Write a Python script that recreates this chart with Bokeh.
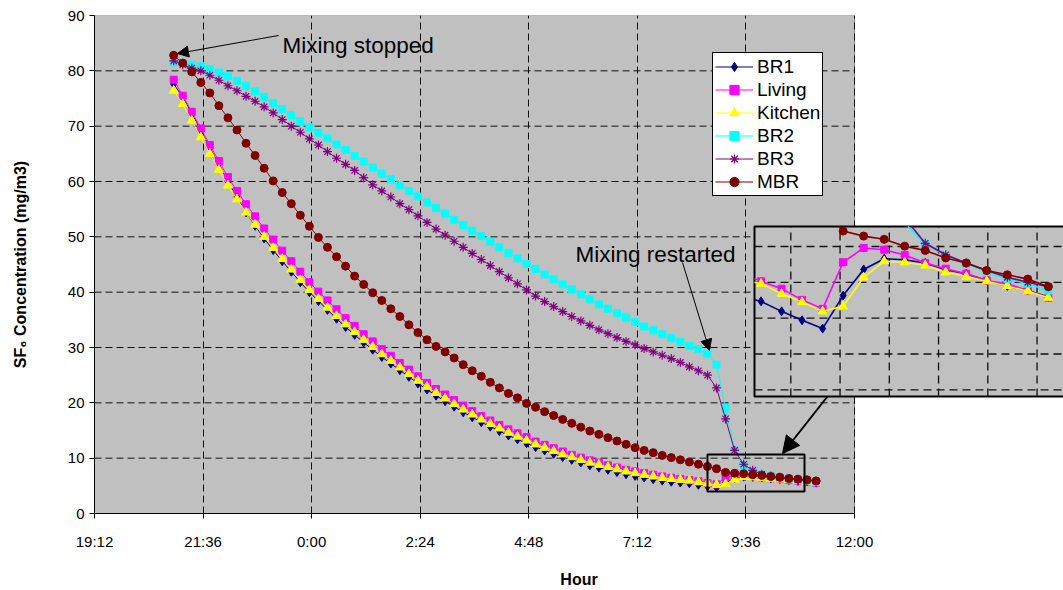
from bokeh.plotting import figure
from bokeh.models import (Range1d, FixedTicker, BoxAnnotation, Label, Arrow,
                          NormalHead, Legend, LegendItem)
from bokeh.embed import file_html
from bokeh.resources import INLINE

# ---------------- data ----------------
times = ["20:57", "21:09", "21:21", "21:33", "21:45", "21:57", "22:09", "22:21", "22:33", "22:45",
         "22:57", "23:09", "23:21", "23:33", "23:45", "23:57", "0:09", "0:21", "0:33", "0:45",
         "0:57", "1:09", "1:21", "1:33", "1:45", "1:57", "2:09", "2:21", "2:33", "2:45",
         "2:57", "3:09", "3:21", "3:33", "3:45", "3:57", "4:09", "4:21", "4:33", "4:45",
         "4:57", "5:09", "5:21", "5:33", "5:45", "5:57", "6:09", "6:21", "6:33", "6:45",
         "6:57", "7:09", "7:21", "7:33", "7:45", "7:57", "8:09", "8:21", "8:33", "8:45",
         "8:57", "9:09", "9:21", "9:33", "9:45", "9:57", "10:09", "10:21", "10:33", "10:45",
         "10:57", "11:09"]

br1 = [77.6, 75.3, 72.3, 69.2, 66.1, 63.2, 60.0, 57.2, 54.4, 52.0,
       49.7, 47.6, 45.6, 43.7, 41.8, 40.0, 38.4, 36.8, 35.2, 33.7,
       32.3, 30.9, 29.6, 28.3, 27.1, 25.9, 24.7, 23.5, 22.4, 21.3,
       20.3, 19.3, 18.3, 17.4, 16.5, 15.7, 14.9, 14.1, 13.4, 12.7,
       12.0, 11.4, 10.8, 10.2, 9.7, 9.2, 8.7, 8.3, 7.9, 7.5,
       7.1, 6.8, 6.5, 6.2, 5.95, 5.75, 5.6, 5.47, 5.19, 4.94,
       4.71, 5.63, 6.36, 6.66, 6.63, 6.54, 6.35, 6.24, 6.05, 5.90,
       5.77, 5.59]
living = [78.4, 75.5, 72.6, 69.6, 66.6, 63.7, 60.8, 58.3, 55.9, 53.7,
          51.5, 49.5, 47.5, 45.6, 43.7, 41.8, 40.1, 38.5, 36.9, 35.3,
          33.9, 32.4, 31.1, 29.7, 28.5, 27.2, 26.0, 24.8, 23.6, 22.5,
          21.5, 20.5, 19.5, 18.5, 17.6, 16.8, 16.0, 15.2, 14.5, 13.8,
          13.0, 12.4, 11.8, 11.2, 10.6, 10.1, 9.6, 9.2, 8.7, 8.3,
          7.9, 7.6, 7.3, 7.0, 6.7, 6.45, 6.25, 6.03, 5.82, 5.51,
          5.26, 6.56, 6.96, 6.91, 6.76, 6.54, 6.38, 6.24, 6.05, 5.96,
          5.77, 5.57]
kitchen = [76.4, 74.0, 71.0, 68.0, 65.0, 62.1, 59.3, 56.8, 54.4, 52.2,
           50.0, 48.0, 46.0, 44.1, 42.2, 40.4, 38.8, 37.2, 35.7, 34.2,
           32.8, 31.4, 30.1, 28.8, 27.6, 26.4, 25.2, 24.0, 22.9, 21.8,
           20.8, 19.8, 18.8, 17.9, 17.0, 16.2, 15.4, 14.6, 13.9, 13.2,
           12.5, 11.9, 11.3, 10.7, 10.2, 9.7, 9.2, 8.8, 8.4, 8.0,
           7.6, 7.3, 7.0, 6.7, 6.45, 6.25, 6.1, 5.96, 5.68, 5.45,
           5.19, 5.33, 6.14, 6.59, 6.56, 6.47, 6.28, 6.16, 6.03, 5.90,
           5.75, 5.57]
br2 = [81.6, 81.4, 81.1, 80.8, 80.3, 79.7, 79.0, 78.2, 77.3, 76.3,
       75.3, 74.2, 73.1, 72.0, 70.9, 69.8, 68.8, 67.8, 66.7, 65.7,
       64.6, 63.6, 62.5, 61.4, 60.4, 59.3, 58.3, 57.3, 56.2, 55.2,
       54.2, 53.1, 52.1, 51.1, 50.1, 49.1, 48.1, 47.1, 46.1, 45.1,
       44.2, 43.2, 42.3, 41.4, 40.5, 39.6, 38.7, 37.8, 37.0, 36.2,
       35.4, 34.6, 33.8, 33.1, 32.4, 31.7, 31.0, 30.3, 29.7, 28.9,
       26.9, 19.0, 11.4, 8.7, 7.65, 7.06, 6.75, 6.52, 6.29, 6.10,
       5.96, 5.77]
br3 = [81.8, 81.1, 80.5, 80.0, 79.2, 78.3, 77.3, 76.4, 75.4, 74.5,
       73.5, 72.4, 71.2, 70.0, 68.9, 67.7, 66.6, 65.4, 64.2, 63.1,
       62.0, 60.7, 59.4, 58.3, 57.2, 56.0, 54.9, 53.8, 52.6, 51.4,
       50.3, 49.2, 48.1, 47.0, 45.9, 44.8, 43.7, 42.6, 41.5, 40.4,
       39.3, 38.3, 37.4, 36.5, 35.6, 34.8, 34.0, 33.2, 32.5, 31.8,
       31.1, 30.5, 29.8, 29.2, 28.6, 28.0, 27.3, 26.5, 25.8, 25.0,
       22.7, 17.1, 11.4, 8.9, 7.8, 7.09, 6.77, 6.54, 6.33, 6.14,
       6.00, 5.88]
mbr = [82.8, 81.4, 79.8, 77.9, 76.0, 73.7, 71.5, 69.3, 66.9, 64.7,
       62.4, 60.1, 58.0, 56.0, 53.9, 51.9, 49.9, 48.1, 46.4, 44.7,
       42.9, 41.4, 39.9, 38.5, 37.0, 35.6, 34.1, 32.7, 31.4, 30.2,
       29.2, 28.1, 26.9, 25.8, 24.8, 23.7, 22.7, 21.7, 20.9, 19.9,
       19.2, 18.4, 17.7, 17.0, 16.3, 15.6, 14.9, 14.3, 13.7, 13.1,
       12.5, 11.9, 11.4, 11.0, 10.5, 10.1, 9.7, 9.3, 8.9, 8.5,
       8.1, 7.43, 7.29, 7.20, 7.01, 6.89, 6.68, 6.54, 6.33, 6.21,
       6.09, 5.88]

series_names = ["BR1", "Living", "Kitchen", "BR2", "BR3", "MBR"]
tick_labels = ["19:12", "21:36", "0:00", "2:24", "4:48", "7:12", "9:36", "12:00"]
y_ticks = [0, 10, 20, 30, 40, 50, 60, 70, 80, 90]
inset_x_ticks = ["8:38:24", "9:07:12", "9:36:00", "10:04:48", "10:33:36", "11:02:24"]
inset_y_ticks = [3, 4, 5, 6, 7]

# ---------------- helpers ----------------
def to_min(s):
    parts = [int(v) for v in s.split(":")]
    m = parts[0] * 60 + parts[1] + (parts[2] / 60.0 if len(parts) > 2 else 0)
    m = m + 1440 if m < 1080 else m
    return int(m) if float(m).is_integer() else m

x = [to_min(t) for t in times]
xt = [to_min(t) for t in tick_labels]
ixt = [to_min(t) for t in inset_x_ticks]

# ---------------- geometry (page pixels) ----------------
W, H = 1063, 590
FL, FT, FBOT = 94, 15, 77
FW = W - FL
FH = H - FT - FBOT
X0, X1 = xt[0], xt[-1]
AXIS_PX = 760.0
ppm = AXIS_PX / (X1 - X0)
x_end = X0 + FW / ppm

def px_x(px):   # page x pixel -> main data x
    return X0 + (px - FL) / ppm

def py_y(py):   # page y pixel -> main data y
    return 90.0 * (FT + FH - py) / FH

# inset placement (page pixels)
I_ANCHOR_PX, I_PPM = 888.8, 1.71        # 9:36 gridline of inset, px per minute
I_Y7_PX, I_PPU = 246.0, 35.83           # value-7 gridline, px per unit
I_LEFT, I_TOP, I_BOTTOM = 754, 226, 396

def ix(px):
    return ixt[2] + (px - I_ANCHOR_PX) / I_PPM

def iy(py):
    return 7 + (I_Y7_PX - py) / I_PPU

FONT = "Liberation Sans"

p = figure(width=W, height=H, output_backend="svg", toolbar_location=None,
           x_range=Range1d(X0, x_end), y_range=Range1d(0, 90),
           min_border_left=FL, min_border_right=0, min_border_top=FT,
           min_border_bottom=FBOT)
p.background_fill_color = "white"
p.border_fill_color = "white"
p.outline_line_color = None
p.extra_x_ranges = {"inset": Range1d(ix(FL), ix(W))}
p.extra_y_ranges = {"inset": Range1d(iy(FT + FH), iy(FT))}

# plot area
p.add_layout(BoxAnnotation(left=X0, right=X1, bottom=0, top=90,
                           fill_color="#C0C0C0", fill_alpha=1.0,
                           line_color="#808080", line_alpha=1.0, line_width=1,
                           level="image"))

# grid
DASH = "7 4"
p.xgrid.ticker = FixedTicker(ticks=xt)
p.xgrid.bounds = (X0, X1)
p.xgrid.grid_line_color = "#111111"
p.xgrid.grid_line_dash = DASH
p.xgrid.grid_line_width = 1
p.ygrid.visible = False
hy = y_ticks[1:-1]
p.segment(x0=[X0] * len(hy), x1=[X1] * len(hy), y0=hy, y1=hy,
          line_color="#111111", line_dash=DASH, line_width=1)

# axes
xa = p.xaxis[0]
xa.ticker = FixedTicker(ticks=xt)
xa.bounds = (X0, X1)
xa.major_label_overrides = {v: lab for v, lab in zip(xt, tick_labels)}
xa.axis_label = "Hour"
xa.major_label_standoff = 14
xa.axis_label_standoff = 18
ya = p.yaxis[0]
ya.ticker = FixedTicker(ticks=y_ticks)
ya.bounds = (0, 90)
ya.axis_label = "SF\u2086 Concentration (mg/m3)"
ya.major_label_standoff = 5
ya.axis_label_standoff = 36
for ax in (xa, ya):
    ax.axis_line_color = "black"
    ax.axis_line_width = 1
    ax.major_tick_line_color = "black"
    ax.major_tick_out = 5
    ax.major_tick_in = 0
    ax.minor_tick_line_color = None
    ax.major_label_text_font = FONT
    ax.major_label_text_font_size = "15px"
    ax.major_label_text_color = "black"
    ax.axis_label_text_font = FONT
    ax.axis_label_text_font_size = "16px"
    ax.axis_label_text_font_style = "bold"
    ax.axis_label_text_color = "black"

# series
styles = [
    (br1, "#000080", "diamond", 9),
    (living, "#FF00FF", "square", 7),
    (kitchen, "#FFFF00", "triangle", 9),
    (br2, "#00FFFF", "square", 7),
    (br3, "#800080", "asterisk", 9),
    (mbr, "#800000", "circle", 8),
]
items = []
for name, (ys, col, mk, sz) in zip(series_names, styles):
    rl = p.line(x, ys, line_color=col, line_width=1)
    rm = p.scatter(x, ys, marker=mk, size=sz, fill_color=col, line_color=col,
                   line_width=1.2 if mk == "asterisk" else 1)
    items.append(LegendItem(label=name, renderers=[rl, rm]))

legend = Legend(items=items, location=(618, 317), label_text_font=FONT,
                label_text_font_size="19px", label_text_color="black",
                glyph_width=38, glyph_height=23, label_height=23, label_standoff=4,
                padding=2, spacing=0, margin=0,
                border_line_color="black", border_line_width=1, border_line_alpha=1.0,
                background_fill_color="white", background_fill_alpha=1.0)
p.add_layout(legend)

# annotations (main)
p.add_layout(Label(x=px_x(282), y=py_y(45), text="Mixing stopped", text_font=FONT,
                   text_font_size="22.5px", text_color="black", text_baseline="alphabetic"))
p.add_layout(Label(x=px_x(575), y=py_y(254), text="Mixing restarted", text_font=FONT,
                   text_font_size="22.5px", text_color="black", text_baseline="alphabetic"))
p.add_layout(Arrow(x_start=px_x(278), y_start=py_y(35), x_end=px_x(177), y_end=py_y(53),
                   line_color="black", line_width=1,
                   end=NormalHead(size=11, fill_color="black", line_color="black")))
p.add_layout(Arrow(x_start=px_x(682), y_start=py_y(262), x_end=px_x(709), y_end=py_y(350),
                   line_color="black", line_width=1,
                   end=NormalHead(size=11, fill_color="black", line_color="black")))
p.add_layout(BoxAnnotation(left=px_x(707), right=px_x(804), top=py_y(454), bottom=py_y(491),
                           fill_color=None, fill_alpha=0, line_color="black",
                           line_alpha=1.0, line_width=2))

# inset frame
p.add_layout(BoxAnnotation(left=px_x(I_LEFT), right=px_x(1080), top=py_y(I_TOP),
                           bottom=py_y(I_BOTTOM), fill_color="#C0C0C0", fill_alpha=1.0,
                           line_color="black", line_alpha=1.0, line_width=2))
p.add_layout(Arrow(x_start=px_x(827), y_start=py_y(I_BOTTOM), x_end=px_x(782), y_end=py_y(453),
                   line_color="black", line_width=2,
                   end=NormalHead(size=17, fill_color="black", line_color="black")))

CX0, CX1 = ix(I_LEFT), ix(W)
CY0, CY1 = iy(I_BOTTOM), iy(I_TOP)

ivx = [v for v in ixt if CX0 < v < CX1]
p.segment(x0=ivx, x1=ivx, y0=[CY0] * len(ivx), y1=[CY1] * len(ivx),
          x_range_name="inset", y_range_name="inset", level="overlay",
          line_color="#111111", line_dash="8 5", line_width=1.3)
p.segment(x0=[CX0] * len(inset_y_ticks), x1=[CX1] * len(inset_y_ticks),
          y0=inset_y_ticks, y1=inset_y_ticks,
          x_range_name="inset", y_range_name="inset", level="overlay",
          line_color="#111111", line_dash="8 5", line_width=1.3)


def clip_seg(xa_, ya_, xb_, yb_):
    dx, dy = xb_ - xa_, yb_ - ya_
    t0, t1 = 0.0, 1.0
    for pp, qq in ((-dx, xa_ - CX0), (dx, CX1 - xa_), (-dy, ya_ - CY0), (dy, CY1 - ya_)):
        if pp == 0:
            if qq < 0:
                return None
        else:
            r = qq / pp
            if pp < 0:
                if r > t1:
                    return None
                t0 = max(t0, r)
            else:
                if r < t0:
                    return None
                t1 = min(t1, r)
    return (xa_ + t0 * dx, ya_ + t0 * dy, xa_ + t1 * dx, ya_ + t1 * dy)


for ys, col, mk, sz in styles:
    segs = [clip_seg(x[k], ys[k], x[k + 1], ys[k + 1]) for k in range(len(x) - 1)]
    segs = [s for s in segs if s is not None]
    if segs:
        p.segment(x0=[s[0] for s in segs], y0=[s[1] for s in segs],
                  x1=[s[2] for s in segs], y1=[s[3] for s in segs],
                  x_range_name="inset", y_range_name="inset", level="overlay",
                  line_color=col, line_width=1.6)
    inside = [k for k in range(len(x)) if CX0 < x[k] < CX1 and CY0 < ys[k] < CY1 - 0.1]
    p.scatter([x[k] for k in inside], [ys[k] for k in inside], marker=mk, size=sz,
              fill_color=col, line_color=col, line_width=1.2 if mk == "asterisk" else 1,
              x_range_name="inset", y_range_name="inset", level="overlay")

open("out.html", "w").write(file_html(p, INLINE))
